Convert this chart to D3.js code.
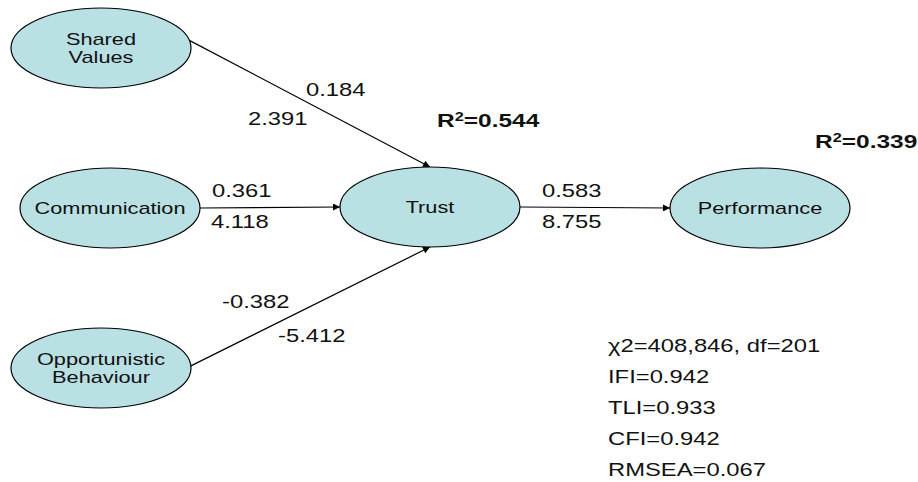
<!DOCTYPE html>
<html>
<head>
<meta charset="utf-8">
<script src="https://cdn.jsdelivr.net/npm/d3@7"></script>
<style>
  body { margin: 0; background: #fff; }
  text { font-family: "Liberation Sans", Arial, sans-serif; fill: #111; }
</style>
</head>
<body>
<div id="chart"></div>
<script>
// data
var nodeNames = ["Shared Values", "Communication", "Opportunistic Behaviour", "Trust", "Performance"];
var nodeLines = [["Shared", "Values"], ["Communication"], ["Opportunistic", "Behaviour"], ["Trust"], ["Performance"]];
var edgeFrom = ["Shared Values", "Communication", "Opportunistic Behaviour", "Trust"];
var edgeTo = ["Trust", "Trust", "Trust", "Performance"];
var coefs = ["0.184", "0.361", "-0.382", "0.583"];
var tvalues = ["2.391", "4.118", "-5.412", "8.755"];
var r2Nodes = ["Trust", "Performance"];
var r2Values = ["0.544", "0.339"];
var fitStats = ["\u03c72=408,846, df=201", "IFI=0.942", "TLI=0.933", "CFI=0.942", "RMSEA=0.067"];

// layout
var width = 918, height = 482;
var SX = 1.36; // text in the original is stretched horizontally
var nodePos = {
  "Shared Values": [101, 48],
  "Communication": [110, 208],
  "Opportunistic Behaviour": [101, 368],
  "Trust": [430, 207],
  "Performance": [760, 208]
};
var rx = 90, ry = 40;
// attach angle (deg) on source / target ellipse
var srcAngle = [-11, 0, -3, 0];
var dstAngle = [-90, 180, 90, 180];
// label anchors: [coef x, coef y, t x, t y] (left aligned baselines)
var labelPos = [
  [306, 96, 248, 125],
  [212, 197, 211, 228],
  [222, 308, 278, 342],
  [542, 197, 542, 228]
];
var r2Pos = { "Trust": [437, 127], "Performance": [815, 148] };

var svg = d3.select("#chart").append("svg")
  .attr("width", width).attr("height", height);

svg.append("defs").append("marker")
  .attr("id", "arrow")
  .attr("viewBox", "0 0 10 10")
  .attr("refX", 10).attr("refY", 5)
  .attr("markerWidth", 9).attr("markerHeight", 7)
  .attr("markerUnits", "userSpaceOnUse")
  .attr("orient", "auto")
  .append("path").attr("d", "M0,0L10,5L0,10z").attr("fill", "#000");

function onEllipse(name, deg) {
  var c = nodePos[name], a = deg * Math.PI / 180;
  return [c[0] + rx * Math.cos(a), c[1] + ry * Math.sin(a)];
}

function addText(g, x, y, str, size, weight, anchor) {
  return g.append("text")
    .attr("transform", "translate(" + [x, y] + ") scale(" + SX + ",1)")
    .attr("text-anchor", anchor || "start")
    .style("font-size", size + "px")
    .style("font-weight", weight || "normal")
    .text(str);
}

// edges
var edges = edgeFrom.map(function(f, i) {
  return { from: f, to: edgeTo[i], coef: coefs[i], t: tvalues[i], i: i };
});

svg.append("g").selectAll("line")
  .data(edges).enter().append("line")
  .attr("x1", function(d) { return onEllipse(d.from, srcAngle[d.i])[0]; })
  .attr("y1", function(d) { return onEllipse(d.from, srcAngle[d.i])[1]; })
  .attr("x2", function(d) { return onEllipse(d.to, dstAngle[d.i])[0]; })
  .attr("y2", function(d) { return onEllipse(d.to, dstAngle[d.i])[1]; })
  .attr("stroke", "#000").attr("stroke-width", 1.2)
  .attr("marker-end", "url(#arrow)");

// nodes
var nodes = svg.append("g").selectAll("g")
  .data(nodeNames).enter().append("g")
  .attr("transform", function(d) { return "translate(" + nodePos[d] + ")"; });

nodes.append("ellipse")
  .attr("rx", rx).attr("ry", ry)
  .attr("fill", "#b9e0e3").attr("stroke", "#000").attr("stroke-width", 1.2);

nodes.each(function(d, i) {
  var lines = nodeLines[i], g = d3.select(this);
  var lh = 18, y0 = 6 - (lines.length - 1) * lh / 2;
  lines.forEach(function(l, k) {
    addText(g, 0, y0 + k * lh, l, 16, "normal", "middle");
  });
});

// path coefficients
var lab = svg.append("g");
edges.forEach(function(d) {
  var p = labelPos[d.i];
  addText(lab, p[0], p[1], d.coef, 17.5);
  addText(lab, p[2], p[3], d.t, 17.5);
});

// R squared
r2Nodes.forEach(function(n, i) {
  var p = r2Pos[n];
  var t = lab.append("text")
    .attr("transform", "translate(" + p + ") scale(" + SX + ",1)")
    .style("font-size", "18px").style("font-weight", "bold");
  t.append("tspan").text("R");
  t.append("tspan").text("2").style("font-size", "12px").attr("dy", -6);
  t.append("tspan").text("=" + r2Values[i]).attr("dy", 6);
});

// fit statistics
fitStats.forEach(function(s, i) {
  addText(lab, 608, 352 + i * 31, s, 17.5);
});
</script>
</body>
</html>
